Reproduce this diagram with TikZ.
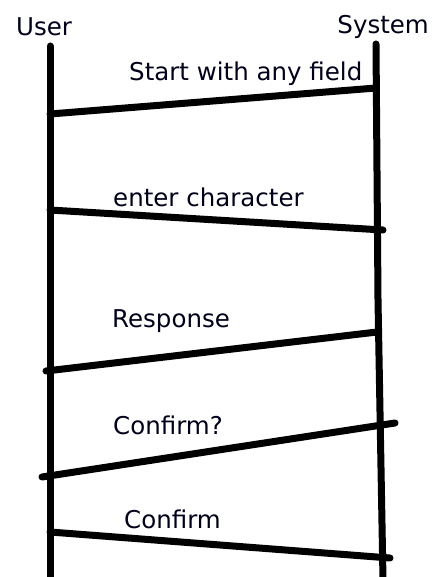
\documentclass[tikz,border=0pt]{standalone}
\usepackage{fontspec}
\setmainfont{DejaVu Sans}
\begin{document}
\begin{tikzpicture}[x=1pt,y=-1pt,
  life/.style={line width=7pt,line cap=round},
  msg/.style={line width=7pt,line cap=round},
  lbl/.style={font=\fontsize{24.5}{28}\selectfont,text=black!90!blue,inner sep=0pt}]
\useasboundingbox (0,0) rectangle (432,577);
% actors
\node[lbl] (user) at (44,27) {User};
\node[lbl,anchor=east] (sys) at (429,27) {System};
% lifelines
\coordinate (u0) at (50,46);
\coordinate (u1) at (50,580);
\coordinate (s0) at (376,44);
\coordinate (sm) at (378,300);
\coordinate (s1) at (383,580);
\draw[life] (u0) -- (u1);
\draw[life] (s0) -- (sm) -- (s1);
% messages
\coordinate (a1) at (50,114); \coordinate (b1) at (376,88);
\coordinate (a2) at (50,210); \coordinate (b2) at (383,230);
\coordinate (a3) at (46,371); \coordinate (b3) at (377,332);
\coordinate (a4) at (42,477); \coordinate (b4) at (395,423);
\coordinate (a5) at (50,532); \coordinate (b5) at (390,558);
\draw[msg] (a1) -- (b1);
\draw[msg] (a2) -- (b2);
\draw[msg] (a3) -- (b3);
\draw[msg] (a4) -- (b4);
\draw[msg] (a5) -- (b5);
% labels
\node[lbl,anchor=west] (m1) at (129,74) {Start with any field};
\node[lbl,anchor=west] (m2) at (113,197) {enter character};
\node[lbl,anchor=west] (m3) at (112,321) {Response};
\node[lbl,anchor=west] (m4) at (113,425) {Confirm?};
\node[lbl,anchor=west] (m5) at (124,519) {Confirm};
\end{tikzpicture}
\end{document}
